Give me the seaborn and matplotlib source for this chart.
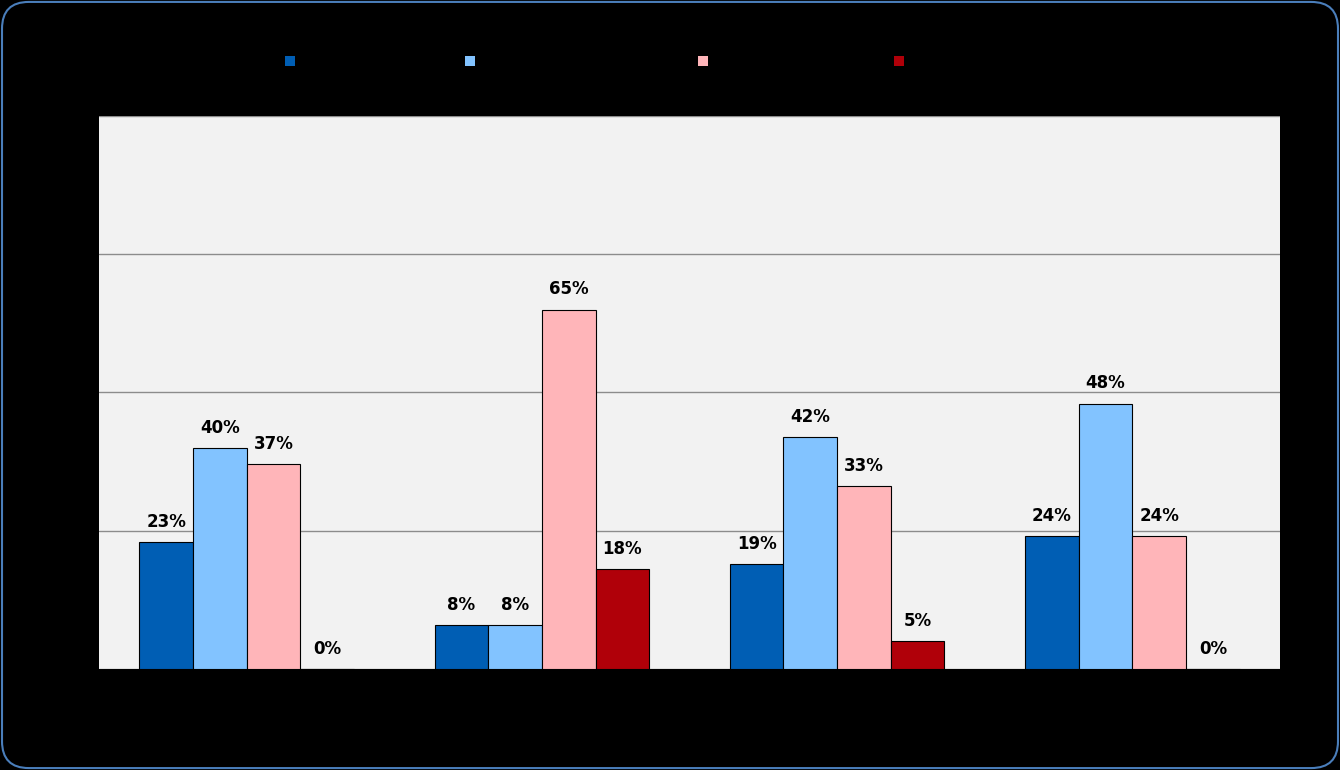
import matplotlib
matplotlib.use("Agg")
import matplotlib.pyplot as plt
from matplotlib.patches import FancyBboxPatch, Patch
import seaborn as sns
import pandas as pd

categories = ["Category 1", "Category 2", "Category 3", "Category 4"]
series = ["Strongly agree", "Somewhat agree", "Somewhat disagree", "Strongly disagree"]
values = {
    "Strongly agree": [23, 8, 19, 24],
    "Somewhat agree": [40, 8, 42, 48],
    "Somewhat disagree": [37, 65, 33, 24],
    "Strongly disagree": [0, 18, 5, 0],
}
colors = ["#005EB4", "#82C3FF", "#FFB5B9", "#B00009"]

rows = []
for s in series:
    for c, v in zip(categories, values[s]):
        rows.append({"category": c, "series": s, "value": v})
df = pd.DataFrame(rows)

sns.set_theme(style="white")
plt.rcParams['font.family'] = ['DejaVu Sans']

fig = plt.figure(figsize=(13.4, 7.7), dpi=100)
fig.patch.set_facecolor("black")

frame = FancyBboxPatch((0.0015, 0.0025), 0.997, 0.995,
                       boxstyle="round,pad=0,rounding_size=0.02",
                       transform=fig.transFigure, facecolor="black",
                       edgecolor="#4A7EBB", linewidth=1.5, zorder=-10,
                       mutation_aspect=13.4 / 7.7)
fig.patches.append(frame)

ax = fig.add_axes([0.0739, 0.1312, 0.8813, 0.7182])
ax.set_facecolor("#F2F2F2")

sns.barplot(data=df, x="category", y="value", hue="series", order=categories,
            hue_order=series, palette=colors, saturation=1, width=0.727,
            edgecolor="black", linewidth=0.8, ax=ax, legend=False, zorder=3)

ax.set_ylim(0, 100)
ax.set_yticks([0, 25, 50, 75, 100])
ax.yaxis.grid(True, color="#8C8C8C", linewidth=1, zorder=0)
ax.set_axisbelow(True)
for sp in ax.spines.values():
    sp.set_visible(False)
ax.tick_params(axis="both", colors="black", labelcolor="black", length=0, labelsize=12)
ax.set_yticklabels([f"{v}%" for v in [0, 25, 50, 75, 100]])
ax.set_xlabel("")
ax.set_ylabel("")

for cont in ax.containers:
    for bar in cont:
        h = bar.get_height()
        ax.annotate(f"{h:.0f}%", (bar.get_x() + bar.get_width() / 2, h),
                    xytext=(0, 8), textcoords="offset points",
                    ha="center", va="bottom", fontsize=12, fontweight="bold",
                    color="black", zorder=5)

legend_x = [285, 465, 698, 894]
for name, col, lx in zip(series, colors, legend_x):
    leg = fig.legend([Patch(facecolor=col, edgecolor="none")], [name],
                     loc="center left", bbox_to_anchor=(lx / 1340, 1 - 62 / 770),
                     frameon=False, fontsize=12, handlelength=0.6,
                     handleheight=0.6, handletextpad=0.5, borderpad=0,
                     borderaxespad=0)
    for t in leg.get_texts():
        t.set_color("black")

fig.savefig("out.png", dpi=100, facecolor=fig.get_facecolor())
